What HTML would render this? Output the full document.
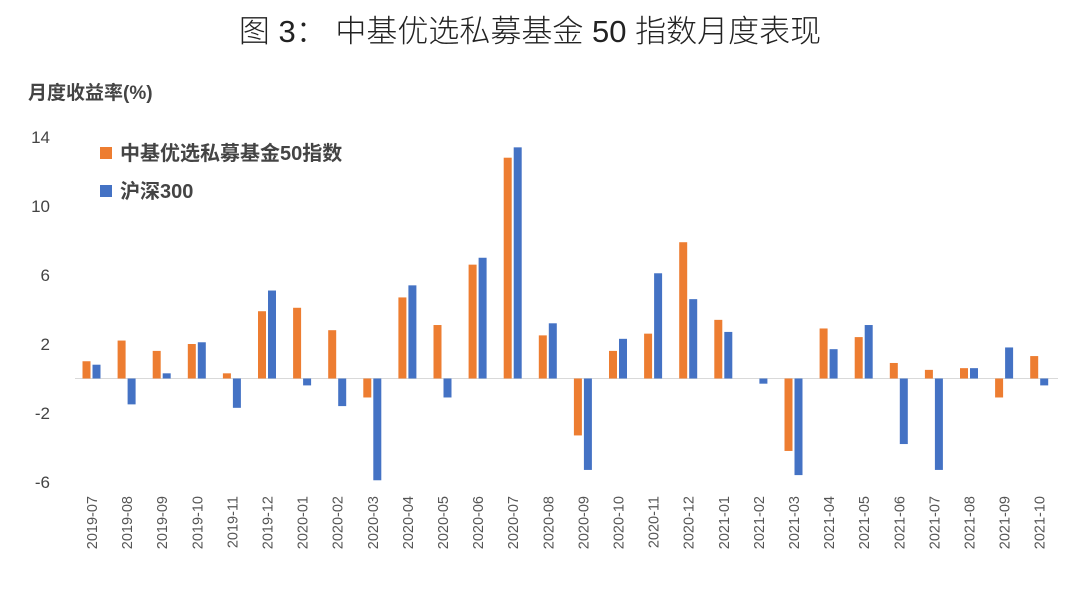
<!DOCTYPE html>
<html><head><meta charset="utf-8"><style>
body{margin:0;background:#fff;}
svg{display:block;font-family:"Liberation Sans","Noto Sans CJK SC",sans-serif;}
</style></head><body>
<svg id="chart" width="1080" height="602">
<text x="530" y="42" text-anchor="middle" font-size="31" fill="#222" font-weight="300">图 3：  中基优选私募基金 50 指数月度表现</text>
<text x="28" y="99" font-size="19" font-weight="bold" fill="#444">月度收益率(%)</text>
<rect x="100" y="147" width="12" height="12" fill="#ED7D31"/>
<text x="120" y="160" font-size="20" font-weight="bold" fill="#444">中基优选私募基金50指数</text>
<rect x="100" y="185" width="12" height="12" fill="#4472C4"/>
<text x="120" y="198" font-size="20" font-weight="bold" fill="#444">沪深300</text>
<g id="marks"></g>
</svg>
<script>
const categories=["2019-07","2019-08","2019-09","2019-10","2019-11","2019-12","2020-01","2020-02","2020-03","2020-04","2020-05","2020-06","2020-07","2020-08","2020-09","2020-10","2020-11","2020-12","2021-01","2021-02","2021-03","2021-04","2021-05","2021-06","2021-07","2021-08","2021-09","2021-10"];
const indexValues=[1.0,2.2,1.6,2.0,0.3,3.9,4.1,2.8,-1.1,4.7,3.1,6.6,12.8,2.5,-3.3,1.6,2.6,7.9,3.4,0,-4.2,2.9,2.4,0.9,0.5,0.6,-1.1,1.3];
const hs300Values=[0.8,-1.5,0.3,2.1,-1.7,5.1,-0.4,-1.6,-5.9,5.4,-1.1,7.0,13.4,3.2,-5.3,2.3,6.1,4.6,2.7,-0.3,-5.6,1.7,3.1,-3.8,-5.3,0.6,1.8,-0.4];
const yTicks=[14,10,6,2,-2,-6];
const NS="http://www.w3.org/2000/svg";
const g=document.getElementById('marks');
const y=v=>378.5-v*17.25;
const xc=i=>91.5+i*35.1;
function mk(t,a){const e=document.createElementNS(NS,t);for(const k in a)e.setAttribute(k,a[k]);g.appendChild(e);return e;}
yTicks.forEach(t=>{
  const e=mk('text',{x:50,y:y(t)+6,'text-anchor':'end','font-size':17,fill:'#444'});
  e.textContent=t;
  
  
});
const ax=mk('line',{x1:75,x2:1058,y1:y(0),y2:y(0),stroke:'#d9d9d9','stroke-width':1});


categories.forEach((c,i)=>{
  const cx=xc(i);
  [[indexValues[i],'#ED7D31',cx-9,'bar-index-'+c],[hs300Values[i],'#4472C4',cx+1,'bar-hs300-'+c]].forEach(([v,col,bx,nm])=>{
    if(v===0)return;
    const r=mk('rect',{x:bx,width:8,y:Math.min(y(v),y(0)),height:Math.abs(y(v)-y(0)),fill:col});
    
    
  });
  const t=mk('text',{x:0,y:0,'text-anchor':'end','font-size':14.5,fill:'#555',transform:`translate(${cx+5.5},496) rotate(-90)`});
  t.textContent=c;
  
  
});
</script>
</body></html>
